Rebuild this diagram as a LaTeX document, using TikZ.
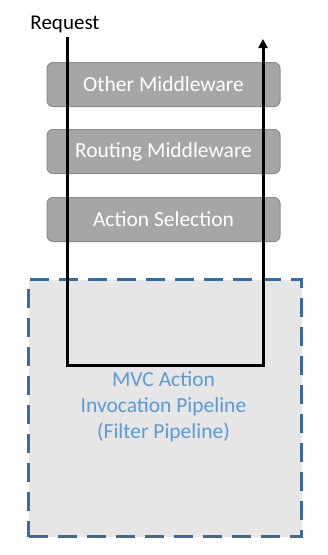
\documentclass[tikz,border=0pt]{standalone}
\usepackage{fontspec}
\setmainfont{Carlito}
\usetikzlibrary{arrows.meta}
\definecolor{boxfill}{HTML}{A6A6A6}
\definecolor{boxline}{HTML}{8C8C8C}
\definecolor{pipefill}{HTML}{E7E6E6}
\definecolor{pipeline}{HTML}{3A6B9B}
\definecolor{pipetext}{HTML}{5B9BD5}
\tikzset{
  mw/.style={draw=boxline, fill=boxfill, rounded corners=6pt, line width=1pt,
    minimum width=233pt, minimum height=44pt, text=white, font=\fontsize{21.5}{24}\selectfont, inner sep=0pt},
  flow/.style={line width=3pt, black},
}
\begin{document}
\begin{tikzpicture}[x=1pt,y=-1pt]
\useasboundingbox (0,0) rectangle (328,555);
\node[draw=pipeline, fill=pipefill, line width=3pt, dash pattern=on 19pt off 10pt,
  minimum width=273pt, minimum height=257pt, inner sep=0pt, anchor=north west] (pipe) at (27,278) {};
\node[mw] (other) at (163.5,84.5) {Other Middleware};
\node[mw] (routing) at (163.5,151.5) {Routing Middleware};
\node[mw] (action) at (163.5,219.5) {Action Selection};
\node[font=\fontsize{21}{24}\selectfont, anchor=base] (req) at (65,29) {Request};
\node[text=pipetext, font=\fontsize{21.5}{26}\selectfont, align=center] (ptext) at (163.5,407) {MVC Action\\Invocation Pipeline\\(Filter Pipeline)};
\coordinate (start) at (67,37);
\coordinate (bl) at (67,365);
\coordinate (br) at (263,365);
\coordinate (endpt) at (263,39);
\draw[flow, -{Triangle[length=9pt,width=9pt]}] (start) -- (bl) -- (br) -- (endpt);
\end{tikzpicture}
\end{document}
